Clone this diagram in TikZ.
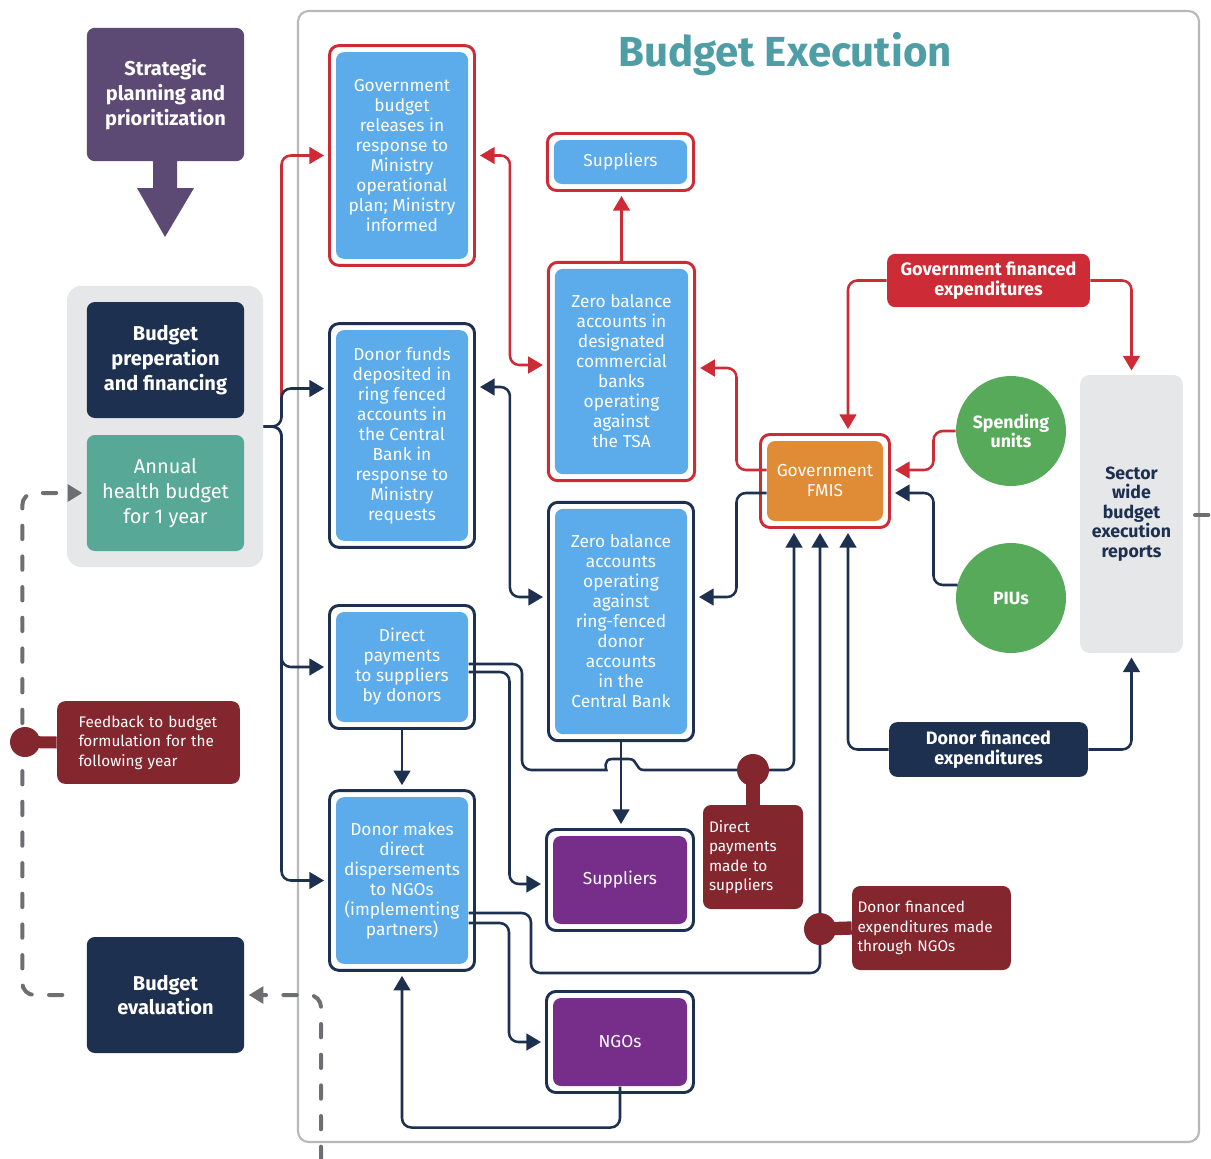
\documentclass[tikz,border=0pt]{standalone}
\usepackage{fontspec}
\setmainfont{Fira Sans}
\usetikzlibrary{arrows.meta,calc,fit}

\definecolor{navy}{RGB}{30,48,80}
\definecolor{redline}{RGB}{205,43,53}
\definecolor{skyblue}{RGB}{92,172,235}
\definecolor{planpurple}{RGB}{92,73,116}
\definecolor{suppurple}{RGB}{119,46,139}
\definecolor{budgetteal}{RGB}{87,168,150}
\definecolor{unitgreen}{RGB}{87,170,90}
\definecolor{fmisorange}{RGB}{224,139,54}
\definecolor{notered}{RGB}{132,38,46}
\definecolor{panelgray}{RGB}{230,231,232}
\definecolor{dashgray}{RGB}{109,110,113}
\definecolor{framegray}{RGB}{183,184,186}
\definecolor{titleteal}{RGB}{79,157,165}

\tikzset{every picture/.style={line width=0.75pt},
  stagebox/.style={rounded corners=6pt, minimum width=118pt, minimum height=87pt, inner sep=2pt,
    text=white, align=center, font=\fontsize{15}{18.5}\selectfont\bfseries},
  flowbox/.style={fill=skyblue, rounded corners=6pt, minimum width=99pt, inner sep=2pt,
    text=white, align=center, font=\fontsize{13}{15}\selectfont},
  endbox/.style={flowbox, fill=suppurple, minimum width=100.5pt, minimum height=66pt},
  boxrim/.style={draw=#1, line width=2.2pt, rounded corners=7pt, inner sep=4.5pt},
  expbox/.style={rounded corners=6pt, inner sep=2pt, text=white, align=center,
    font=\fontsize{13.5}{15}\selectfont\bfseries},
  unit/.style={circle, fill=unitgreen, minimum size=82.5pt, inner sep=0pt, text=white, align=center,
    font=\fontsize{13.3}{14.5}\selectfont\bfseries},
  notebox/.style={fill=notered, rounded corners=6pt, text=white, align=left, inner ysep=2pt,
    font=\fontsize{11.5}{14.6}\selectfont},
  navyflow/.style={draw=navy, line width=1.9pt, rounded corners=7pt},
  redflow/.style={draw=redline, line width=1.9pt, rounded corners=7pt},
  headto/.style={arrows={-Triangle[length=11pt,width=12.5pt]}, shorten >=3pt},
  headboth/.style={arrows={Triangle[length=11pt,width=12.5pt]-Triangle[length=11pt,width=12.5pt]},
    shorten <=3pt, shorten >=3pt},
  dashline/.style={draw=dashgray, line width=3pt, dash pattern=on 10pt off 13pt, line cap=round,
    rounded corners=9pt}
}

\begin{document}
\begin{tikzpicture}[x=0.75pt,y=0.75pt,yscale=-1,xscale=1]
\useasboundingbox (0,0) rectangle (1211,1158);

%Shape: Rectangle [frame of the execution stage]
\draw[framegray, line width=1.6pt, rounded corners=8pt] (298,11) rectangle (1199,1142);
% Text Node
\node[font=\fontsize{31.5}{34}\selectfont\bfseries, text=titleteal] (title) at (785,54) {Budget Execution};

%Left column
\node[stagebox, fill=planpurple, minimum height=100pt] (strat) at (165.5,94.5) {Strategic\\planning and\\prioritization};
%Shape: Block Arrow
\fill[planpurple] (153,161) -- (177,161) -- (177,188) -- (194,188) -- (165,237) -- (137,188) -- (153,188) -- cycle;
\node[fill=panelgray, rounded corners=11pt, minimum width=147pt, minimum height=211pt] (panel) at (165,426.5) {};
\node[stagebox, fill=navy] (prep) at (165.5,360) {Budget\\preperation\\and financing};
\node[stagebox, fill=budgetteal, font=\fontsize{15}{18.5}\selectfont] (annual) at (165.5,493) {Annual\\health budget\\for 1 year};
\node[stagebox, fill=navy] (evalu) at (165.5,995) {Budget\\evaluation};
\node[notebox, text width=105pt, inner xsep=16pt, minimum height=62pt] (feedb) at (148.5,742.5) {Feedback to budget\\formulation for the\\following year};

%Flow boxes
\node[flowbox, minimum height=155pt] (relgov) at (402,155.5) {Government\\budget\\releases in\\response to\\Ministry\\operational\\plan; Ministry\\informed};
\node[flowbox, minimum width=100pt, minimum height=33pt] (suptop) at (620.5,162) {Suppliers};
\node[flowbox, minimum width=100pt, minimum height=154pt] (tsa) at (621.5,371.5) {Zero balance\\accounts in\\designated\\commercial\\banks\\operating\\against\\the TSA};
\node[flowbox, minimum height=158pt] (donfund) at (402,435.5) {Donor funds\\deposited in\\ring fenced\\accounts in\\the Central\\Bank in\\response to\\Ministry\\requests};
\node[flowbox, minimum height=169pt] (ringacc) at (621,621.5) {Zero balance\\accounts\\operating\\against\\ring-fenced\\donor\\accounts\\in the\\Central Bank};
\node[flowbox, minimum height=82.5pt] (dirpay) at (402,667) {Direct\\payments\\to suppliers\\by donors};
\node[flowbox, minimum height=125pt] (donngo) at (402,880.5) {Donor makes\\direct\\dispersements\\to NGOs\\(implementing\\partners)};
\node[endbox] (supbot) at (620,880) {Suppliers};
\node[endbox] (ngo) at (620,1042) {NGOs};
\node[flowbox, fill=fmisorange, minimum width=87pt, minimum height=60pt] (fmis) at (825,481) {Government\\FMIS};

\foreach \n/\c in {relgov/redline, suptop/redline, tsa/redline, fmis/redline, donfund/navy,
    ringacc/navy, dirpay/navy, donngo/navy, supbot/navy, ngo/navy}
  \node[boxrim=\c, fit=(\n)] (\n-rim) {};

%Expenditure side
\node[expbox, fill=redline, minimum width=152pt, minimum height=40pt] (govfin) at (988.5,280.5) {Government financed\\expenditures};
\node[expbox, fill=navy, minimum width=149pt, minimum height=41pt] (donfin) at (988.5,749.5) {Donor financed\\expenditures};
\node[unit] (spend) at (1011,431) {Spending\\units};
\node[unit] (piu) at (1011,598) {PIUs};
\node[expbox, fill=panelgray, text=navy, rounded corners=7pt, minimum width=77pt, minimum height=208.5pt,
  font=\fontsize{13.3}{14.6}\selectfont\bfseries] (sector) at (1131.5,514) {Sector\\wide\\budget\\execution\\reports};

%Connectors from the budget
\coordinate (trunk) at ($(panel.east)+(18,0)$);
\draw[redflow, headto] ($(trunk)+(0,-12)$) |- (relgov-rim.west);
\draw[navyflow, headto] (panel.east) -- (trunk) |- ($(donfund-rim.west)+(0,-47)$);
\draw[navyflow, headto] (panel.east) -- (trunk) |- (dirpay-rim.west);
\draw[navyflow, headto] (panel.east) -- (trunk) |- (donngo-rim.west);

%Government financed flows
\draw[redflow, headboth] (relgov-rim.east) -- ++(34,0) |- ($(tsa-rim.west)+(0,-6.5)$);
\draw[redflow, headto] (tsa-rim.north) -- (tsa-rim.north |- suptop-rim.south);
\draw[redflow, headto] ($(fmis.west)+(0,-11)$) -- ++(-30,0) |- ($(tsa-rim.east)+(0,-3.5)$);
\draw[redflow, headto] (govfin.west) -| ($(fmis-rim.north)+(23,0)$);
\draw[redflow, headto] (govfin.east) -| (sector.north);
\draw[redflow, headto] (spend.west) -- ++(-22,0) |- ($(fmis-rim.east)+(0,-11)$);

%Donor financed flows
\draw[navyflow, headto] ($(piu.west)+(2,-13)$) -- ++(-24,0) |- ($(fmis-rim.east)+(0,12)$);
\draw[navyflow, headto] ($(fmis.west)+(0,12)$) -- ++(-30,0) |- ($(ringacc-rim.east)+(0,-24.5)$);
\draw[navyflow, headboth] ($(donfund-rim.east)+(0,-48.5)$) -- ++(34,0) |- ($(ringacc-rim.west)+(0,-24.5)$);
\draw[navyflow, headto] ($(dirpay.east)+(0,-3)$) -- (522,664) -- (522,770) -- (597,770) [sharp corners]
  .. controls (606,770) and (603,759) .. (612,759) -- (629,759)
  .. controls (638,759) and (635,770) .. (644,770) [rounded corners=7pt] -- (794,770) -- ($(fmis-rim.south)+(-31,0)$);
\draw[navyflow, headto] ($(dirpay.east)+(0,5)$) -- ++(41,0) |- ($(supbot-rim.west)+(0,4)$);
\draw[navyflow, headto] (ringacc-rim.south) -- (ringacc-rim.south |- supbot-rim.north);
\draw[navyflow, headto] (dirpay-rim.south) -- (donngo-rim.north);
\draw[navyflow, headto] ($(donngo.east)+(0,32.5)$) -- (531,913) -- (531,973) -- (820,973) -- ($(fmis-rim.south)+(-5,0)$);
\draw[navyflow, headto] ($(donngo.east)+(0,42.5)$) -- (509,923) |- (ngo-rim.west);
\draw[navyflow, headto] (ngo.south) -- ++(0,41) -| (donngo-rim.south);
\draw[navyflow, headto] (donfin.west) -| ($(fmis-rim.south)+(23,0)$);
\draw[navyflow, headto] (donfin.east) -| (sector.south);

%Feedback loop (dashed)
\coordinate (loopin) at (321,1160);
\coordinate (loopout) at (1195,515);
\draw[dashline, arrows={-Triangle[length=11pt,width=12.5pt]}, shorten <=18pt, shorten >=3pt]
  (evalu.west) -| ($(annual.west)+(-64,0)$) -- (annual.west);
\draw[dashline, arrows={-Triangle[length=11pt,width=12.5pt]}, shorten >=3pt] (loopin) |- (evalu.east);
\draw[dashline] (loopout) -- ++(20,0);

%Notes with pins
\coordinate (fbdot) at (25,742);
\coordinate (dirdot) at (753,770);
\coordinate (ngodot) at (820,929);
\node[notebox, text width=66pt, inner xsep=4.5pt, minimum height=78pt] (dirnote) at (753,857) {Direct\\payments\\made to\\suppliers};
\node[notebox, text width=111pt, inner xsep=4pt, minimum height=63pt] (ngonote) at (931.5,928) {Donor financed\\expenditures made\\through NGOs};
\draw[notered, line width=9pt] (fbdot) -- (feedb.west);
\draw[notered, line width=10pt] (dirdot) -- (dirnote.north);
\draw[notered, line width=10pt] (ngodot) -- (ngonote.west);
\fill[notered] (fbdot) circle[radius=15];
\fill[notered] (dirdot) circle[radius=16];
\fill[notered] (ngodot) circle[radius=16];
\end{tikzpicture}
\end{document}
